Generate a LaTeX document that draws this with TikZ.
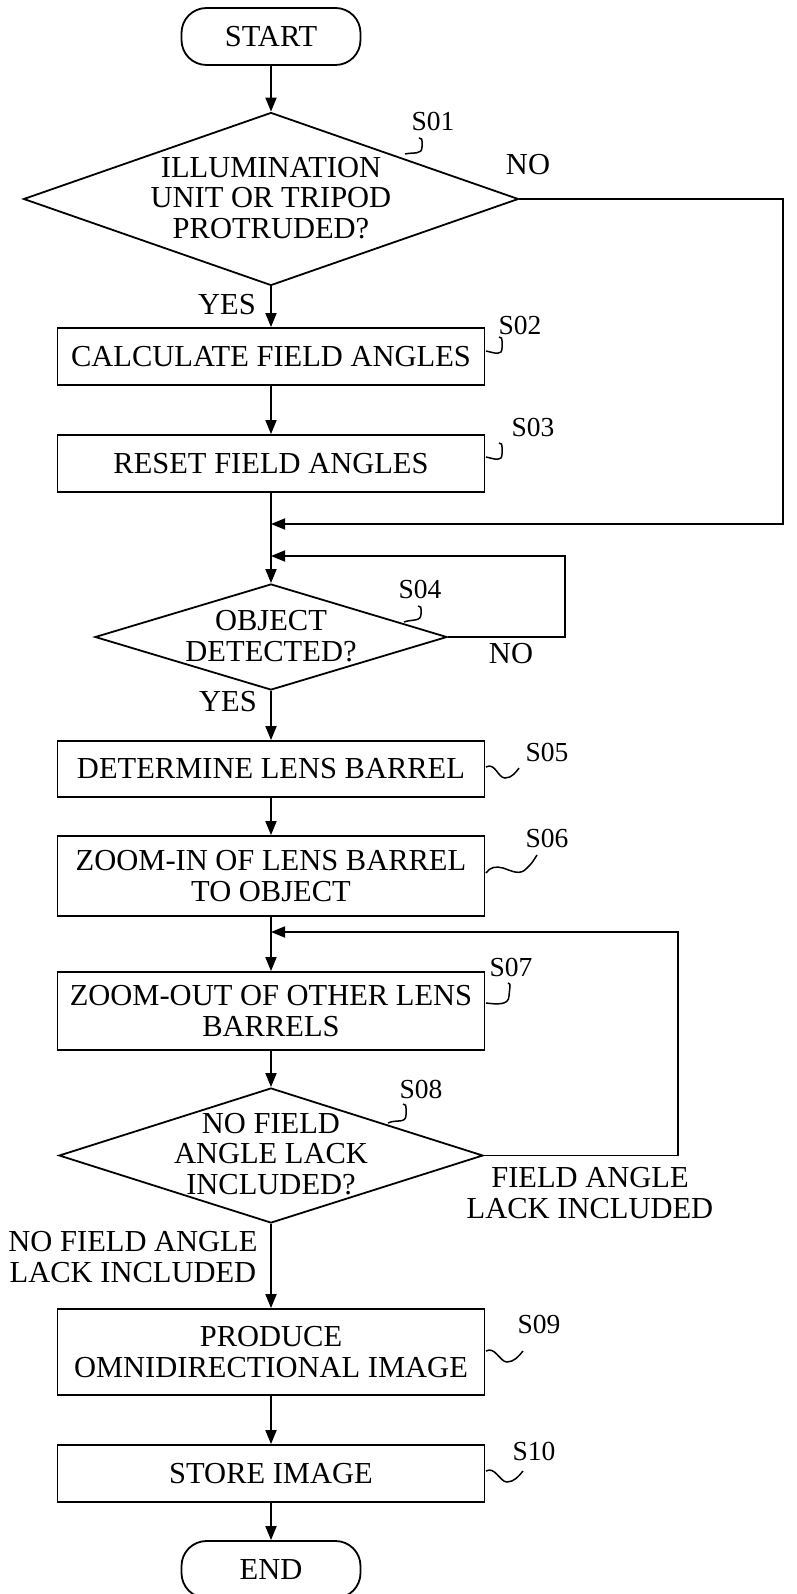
\documentclass[tikz,border=0pt]{standalone}
\usepackage{fontspec}
\setmainfont{Liberation Serif}
\usetikzlibrary{shapes.geometric,arrows.meta}
\begin{document}
\begin{tikzpicture}[x=1pt,y=-1pt,
  font=\fontsize{30.5}{30.5}\selectfont,
  box/.style={draw, line width=1.8pt, minimum width=427pt, inner sep=0pt, align=center},
  term/.style={draw, line width=1.8pt, rounded corners=25pt, minimum width=179pt, minimum height=57pt, inner sep=0pt},
  dia/.style={draw, diamond, line width=1.8pt, inner sep=0pt},
  txt/.style={align=center, inner sep=0pt},
  lab/.style={font=\fontsize{27.5}{28}\selectfont, inner sep=0pt},
  flow/.style={line width=1.8pt, -{Triangle[length=14pt,width=11pt]}},
  squig/.style={line width=1.5pt},
]
\useasboundingbox (0,0) rectangle (796,1594);

% shapes
\node[term] (start) at (271,36.5) {START};
\node[dia, minimum width=495pt, minimum height=173pt] (d1) at (271,199) {};
\node[txt] (d1t) at (271,198) {ILLUMINATION\\UNIT OR TRIPOD\\PROTRUDED?};
\node[box, minimum height=57pt] (s2) at (271,356.5) {CALCULATE FIELD ANGLES};
\node[box, minimum height=57pt] (s3) at (271,463.5) {RESET FIELD ANGLES};
\node[dia, minimum width=352pt, minimum height=106pt] (d4) at (271,637) {};
\node[txt] (d4t) at (271,636) {OBJECT\\DETECTED?};
\node[box, minimum height=56pt] (s5) at (271,769) {DETERMINE LENS BARREL};
\node[box, minimum height=80pt] (s6) at (271,876) {ZOOM-IN OF LENS BARREL\\TO OBJECT};
\node[box, minimum height=78pt] (s7) at (271,1011) {ZOOM-OUT OF OTHER LENS\\BARRELS};
\node[dia, minimum width=424pt, minimum height=135pt] (d8) at (271,1155.5) {};
\node[txt] (d8t) at (271,1154) {NO FIELD\\ANGLE LACK\\INCLUDED?};
\node[box, minimum height=86pt] (s9) at (271,1352) {PRODUCE\\OMNIDIRECTIONAL IMAGE};
\node[box, minimum height=57pt] (s10) at (271,1473.5) {STORE IMAGE};
\node[term] (end) at (271,1569.5) {END};

% junctions and corners
\coordinate (j1) at (271,524);
\coordinate (j2) at (271,556);
\coordinate (j3) at (271,932);
\coordinate (r1) at (783,199);
\coordinate (r2) at (783,524);
\coordinate (r3) at (565,637);
\coordinate (r4) at (565,556);
\coordinate (r5) at (678,1155.5);
\coordinate (r6) at (678,932);

% connectors
\draw[flow] (start) -- (d1);
\draw[flow] (d1) -- (s2);
\draw[flow] (s2) -- (s3);
\draw[flow] (s3) -- (d4);
\draw[flow] (d1.east) -- (r1) -- (r2) -- (j1);
\draw[flow] (d4.east) -- (r3) -- (r4) -- (j2);
\draw[flow] (d4) -- (s5);
\draw[flow] (s5) -- (s6);
\draw[flow] (s6) -- (s7);
\draw[flow] (d8.east) -- (r5) -- (r6) -- (j3);
\draw[flow] (s7) -- (d8);
\draw[flow] (d8) -- (s9);
\draw[flow] (s9) -- (s10);
\draw[flow] (s10) -- (end);

% branch labels
\node[txt] (no1) at (528,165) {NO};
\node[txt] (yes1) at (227,305) {YES};
\node[txt] (no2) at (511,654) {NO};
\node[txt] (yes2) at (228,702) {YES};
\node[txt] (fal) at (590,1193) {FIELD ANGLE\\LACK INCLUDED};
\node[txt] (nfal) at (133,1257) {NO FIELD ANGLE\\LACK INCLUDED};

% step labels
\node[lab] (l1) at (433,121) {S01};
\node[lab] (l2) at (520,325) {S02};
\node[lab] (l3) at (533,427) {S03};
\node[lab] (l4) at (420,589) {S04};
\node[lab] (l5) at (547,752) {S05};
\node[lab] (l6) at (547,838) {S06};
\node[lab] (l7) at (511,967) {S07};
\node[lab] (l8) at (421,1089) {S08};
\node[lab] (l9) at (539,1324) {S09};
\node[lab] (l10) at (534,1451) {S10};

% leader squiggles
\draw[squig] (405,154) .. controls (414,152) and (422,155) .. (422,147) -- (422,141) .. controls (422,139) .. (419,138);
\draw[squig] (486,351) .. controls (495,353) and (502,356) .. (502,348) -- (502,341) .. controls (502,338) .. (499,337);
\draw[squig] (486,457) .. controls (495,459) and (502,462) .. (502,454) -- (502,447) .. controls (502,444) .. (499,443);
\draw[squig] (404,622) .. controls (412,619) and (421,622) .. (421,614) -- (421,609) .. controls (421,607) .. (418,606);
\draw[squig] (486,1003) .. controls (495,1004) and (509,1006) .. (509,996) -- (510,986) .. controls (510,984) .. (508,983);
\draw[squig] (388,1123) .. controls (396,1119) and (406,1124) .. (406,1115) -- (406,1108) .. controls (406,1105) .. (403,1104);
\draw[squig] (486,767) .. controls (495,762) and (498,778) .. (505,778) .. controls (512,778) and (516,772) .. (519,768);
\draw[squig] (486,873) .. controls (490,867) and (496,866) .. (503,868) .. controls (512,871) and (520,876) .. (527,868) .. controls (532,863) .. (537,855);
\draw[squig] (486,1351) .. controls (495,1346) and (500,1362) .. (507,1362) .. controls (514,1362) and (519,1356) .. (523,1351);
\draw[squig] (486,1471) .. controls (495,1466) and (500,1482) .. (507,1482) .. controls (514,1482) and (519,1476) .. (523,1471);
\end{tikzpicture}
\end{document}
